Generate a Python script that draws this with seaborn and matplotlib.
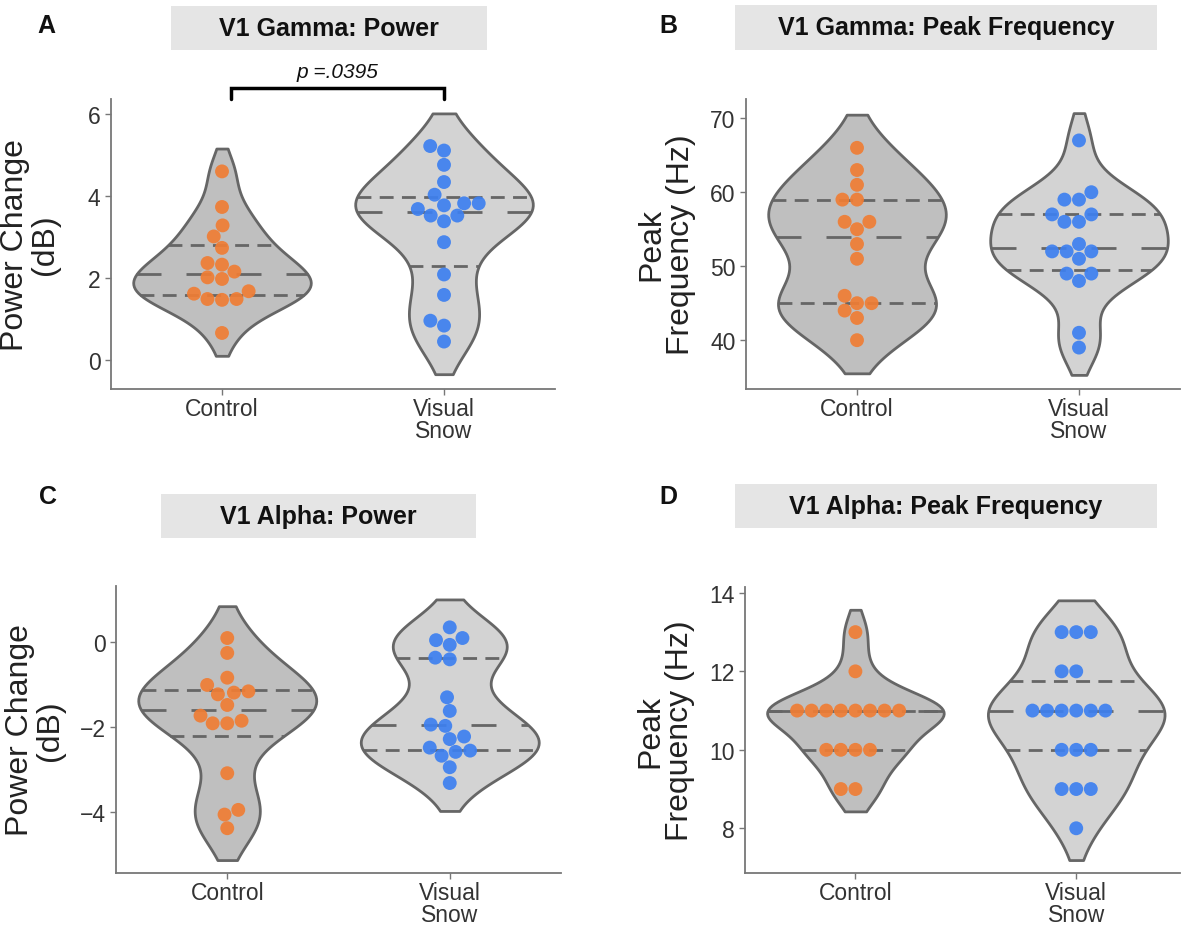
import numpy as np
import pandas as pd
import seaborn as sns
import matplotlib.pyplot as plt
from matplotlib.patches import Rectangle

### Data
groups = ["Control", "Visual Snow"]
tick_labels = ["Control", "Visual\nSnow"]

gamma_power_control = [4.60, 3.73, 3.28, 3.01, 2.73, 2.36, 2.32, 2.15, 2.01, 1.97, 1.67, 1.61, 1.48, 1.46, 1.48, 0.65]
gamma_power_vs = [5.22, 5.11, 4.76, 4.34, 4.03, 3.77, 3.82, 3.82, 3.68, 3.52, 3.52, 3.38, 2.87, 2.08, 1.58, 0.95, 0.83, 0.44]

gamma_peak_control = [66, 63, 61, 59, 59, 56, 56, 55, 53, 51, 46, 45, 45, 44, 43, 40]
gamma_peak_vs = [67, 60, 59, 59, 57, 57, 56, 56, 53, 52, 52, 52, 51, 49, 49, 48, 41, 39]

alpha_power_control = [0.09, -0.26, -0.84, -1.01, -1.16, -1.19, -1.23, -1.48, -1.73, -1.85, -1.91, -1.91, -3.08, -3.94, -4.05, -4.37]
alpha_power_vs = [0.34, 0.09, 0.04, -0.07, -0.37, -0.41, -1.30, -1.62, -1.94, -1.97, -2.22, -2.28, -2.48, -2.58, -2.55, -2.67, -2.94, -3.31]

alpha_peak_control = [13, 12, 11, 11, 11, 11, 11, 11, 11, 11, 10, 10, 10, 10, 9, 9]
alpha_peak_vs = [13, 13, 13, 12, 12, 11, 11, 11, 11, 11, 11, 10, 10, 10, 9, 9, 9, 8]

titles = ["V1 Gamma: Power", "V1 Gamma: Peak Frequency", "V1 Alpha: Power", "V1 Alpha: Peak Frequency"]
letters = ["A", "B", "C", "D"]
ylabels = ["Power Change\n(dB)", "Peak\nFrequency (Hz)", "Power Change\n(dB)", "Peak\nFrequency (Hz)"]
yticks = [[0, 2, 4, 6], [40, 50, 60, 70], [-4, -2, 0], [8, 10, 12, 14]]
p_text = "p =.0395"

fill_colors = ["#BFBFBF", "#D3D3D3"]
dot_colors = ["#F07D34", "#3D80F0"]
edge = "#666666"

### Style
sns.set_style("white")
plt.rcParams["font.family"] = ["Liberation Sans", "DejaVu Sans"]

W, H = 1182, 929
fig = plt.figure(figsize=(W / 100, H / 100), dpi=100)

# axes boxes in pixels: left, right, top, bottom, plus limits
boxes = [(111, 555, 100, 390), (746, 1180, 100, 390), (116, 561, 587, 874), (745, 1180, 588, 874)]
xlims = [(-0.5, 1.5), (-0.5, 1.455), (-0.5, 1.5), (-0.5, 1.47)]
ylims = [(-0.72, 6.37), (33.4, 72.6), (-5.42, 1.31), (6.86, 14.15)]
strips = [(171, 487, 7, 51), (735, 1157, 6, 51), (161, 476, 495, 539), (735, 1157, 485, 529)]
letter_pos = [(46, 26), (668, 26), (48, 497), (668, 497)]

panels = [(gamma_power_control, gamma_power_vs), (gamma_peak_control, gamma_peak_vs),
          (alpha_power_control, alpha_power_vs), (alpha_peak_control, alpha_peak_vs)]

for i, (ctrl, vs) in enumerate(panels):
    l, r, t, b = boxes[i]
    ax = fig.add_axes([l / W, 1 - b / H, (r - l) / W, (b - t) / H])
    df = pd.DataFrame({"group": [groups[0]] * len(ctrl) + [groups[1]] * len(vs),
                       "value": list(ctrl) + list(vs)})

    sns.violinplot(data=df, x="group", y="value", hue="group", order=groups, hue_order=groups,
                   palette=fill_colors, saturation=1, inner="quart", linewidth=2, linecolor=edge,
                   bw_method="scott", bw_adjust=0.85, cut=1.15, density_norm="area", width=0.8,
                   inner_kws=dict(linewidth=2, color=edge), legend=False, ax=ax)
    # ggplot-ish dashes: longer for the median
    for j, ln in enumerate(ax.lines):
        ln.set_dashes((9, 9) if j % 3 == 1 else (5, 3))

    sns.swarmplot(data=df, x="group", y="value", hue="group", order=groups, hue_order=groups,
                  palette=dot_colors, size=10, alpha=0.92, linewidth=0, legend=False, ax=ax)

    ax.set_xlim(*xlims[i])
    ax.set_ylim(*ylims[i])
    ax.set_yticks(yticks[i])
    ax.set_xticks([0, 1])
    ax.set_xticklabels(tick_labels, linespacing=0.95)
    ax.set_xlabel("")
    ax.set_ylabel(ylabels[i], fontsize=23, color="#222222", linespacing=1.0)
    ax.yaxis.set_label_coords(-0.115, 0.5)
    ax.tick_params(axis="both", labelsize=16.5, labelcolor="#333333", color="#777777",
                   length=4, width=1, left=True, bottom=True)
    ax.tick_params(axis="x", pad=2)
    for s in ["top", "right"]:
        ax.spines[s].set_visible(False)
    for s in ["left", "bottom"]:
        ax.spines[s].set_color("#777777")
        ax.spines[s].set_linewidth(1.3)

    # strip title
    sl, sr, st, sb = strips[i]
    fig.add_artist(Rectangle((sl / W, 1 - sb / H), (sr - sl) / W, (sb - st) / H,
                             transform=fig.transFigure, facecolor="#E5E5E5", edgecolor="none"))
    fig.text((sl + sr) / 2 / W, 1 - (st + sb) / 2 / H, titles[i], ha="center", va="center",
             fontsize=18, fontweight="bold", color="#111111")
    fig.text(letter_pos[i][0] / W, 1 - letter_pos[i][1] / H, letters[i], ha="center", va="center",
             fontsize=18, fontweight="bold", color="#111111")

    if i == 0:
        # significance bracket
        ax.plot([0.04, 0.04, 1.0, 1.0], [6.37, 6.63, 6.63, 6.37], color="black", lw=2.5,
                clip_on=False, solid_joinstyle="miter")
        ax.text(0.52, 7.05, p_text, ha="center", va="center", fontsize=15, style="italic",
                color="#111111", clip_on=False)

fig.savefig("out.png", dpi=100)
